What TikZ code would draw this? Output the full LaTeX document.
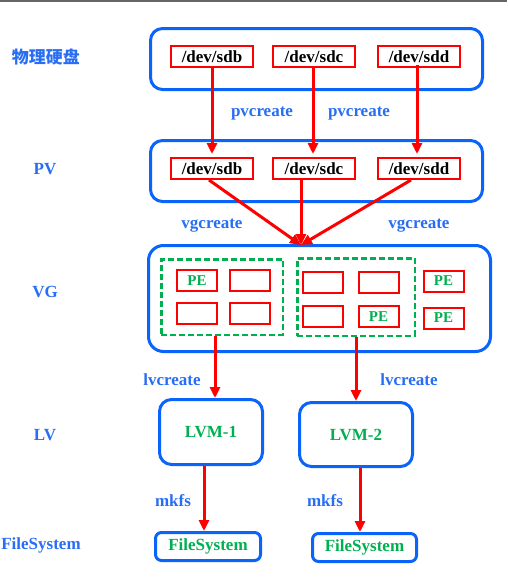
\documentclass[tikz,border=0pt]{standalone}
\usepackage{fontspec}
\setmainfont{Liberation Serif}
\newfontfamily\cjk{Noto Sans CJK SC}
\usetikzlibrary{arrows.meta}
\definecolor{boxblue}{RGB}{10,100,250}
\definecolor{lblblue}{RGB}{40,110,245}
\definecolor{pegreen}{RGB}{0,176,80}
\tikzset{
  grp/.style={draw=boxblue, line width=3pt, rounded corners=12pt, inner sep=0pt},
  dev/.style={draw=red, line width=2pt, minimum width=82pt, minimum height=21pt, inner sep=0pt,
    font=\bfseries\fontsize{17}{17}\selectfont},
  pebox/.style={draw=red, line width=2pt, minimum width=40pt, minimum height=21pt, inner sep=0pt,
    text=pegreen, font=\bfseries\fontsize{15}{15}\selectfont},
  ggrp/.style={draw=pegreen, line width=2.5pt, dash pattern=on 6pt off 3pt, inner sep=0pt},
  lbl/.style={text=lblblue, inner sep=0pt, font=\bfseries\fontsize{17}{17}\selectfont},
  gtxt/.style={text=pegreen, font=\bfseries\fontsize{17}{17}\selectfont},
  arr/.style={draw=red, line width=3pt, -{Triangle[length=11pt,width=10pt]}}
}
\begin{document}
\begin{tikzpicture}[x=1pt,y=-1pt]
\fill[white] (0,0) rectangle (507,579);
\useasboundingbox (0,0) rectangle (507,579);
\draw[gray!80!black, line width=1.5pt] (0,0.75) -- (507,0.75);

% row labels
\node[lbl, font=\cjk\bfseries\fontsize{17}{17}\selectfont] (l1) at (46,57) {物理硬盘};
\node[lbl] (l2) at (45,169) {PV};
\node[lbl] (l3) at (45,292) {VG};
\node[lbl] (l4) at (45,435) {LV};
\node[lbl] (l5) at (41,545) {FileSystem};

% physical disks
\node[grp, minimum width=332pt, minimum height=61pt] (disk) at (316.5,59) {};
\node[dev] (da) at (212,56.5) {/dev/sdb};
\node[dev] (db) at (314,56.5) {/dev/sdc};
\node[dev] (dc) at (419,56.5) {/dev/sdd};

% PV
\node[grp, minimum width=332pt, minimum height=61pt] (pv) at (316.5,171) {};
\node[dev] (pa) at (212,168.5) {/dev/sdb};
\node[dev] (pb) at (314,168.5) {/dev/sdc};
\node[dev] (pc) at (419,168.5) {/dev/sdd};

% VG
\node[grp, rounded corners=15pt, minimum width=342pt, minimum height=106pt] (vg) at (319.5,298.5) {};
\node[ggrp, minimum width=121.5pt, minimum height=75.5pt] (g1) at (222,297) {};
\node[ggrp, minimum width=117.5pt, minimum height=77.5pt] (g2) at (356,297) {};
\node[pebox] (e1) at (197,280.5) {PE};
\node[pebox] (e2) at (250,280.5) {};
\node[pebox] (e3) at (197,313.5) {};
\node[pebox] (e4) at (250,313.5) {};
\node[pebox] (e5) at (323,282.5) {};
\node[pebox] (e6) at (378.5,282.5) {};
\node[pebox] (e7) at (323,316.5) {};
\node[pebox] (e8) at (378.5,316.5) {PE};
\node[pebox] (e9) at (443.5,281) {PE};
\node[pebox] (e10) at (443.5,318) {PE};

% LV
\node[grp, minimum width=103pt, minimum height=65pt, gtxt] (lv1) at (211,432) {LVM-1};
\node[grp, minimum width=113pt, minimum height=64pt, gtxt] (lv2) at (356,434.5) {LVM-2};

% FS
\node[grp, rounded corners=6pt, minimum width=105pt, minimum height=28pt, gtxt] (fs1) at (208,546.5) {FileSystem};
\node[grp, rounded corners=6pt, minimum width=104pt, minimum height=28pt, gtxt] (fs2) at (364.5,547.5) {FileSystem};

% command labels
\node[lbl] (c1) at (262,114) {pvcreate};
\node[lbl] (c2) at (359,114) {pvcreate};
\node[lbl] (c3) at (212,226) {vgcreate};
\node[lbl] (c4) at (419,226) {vgcreate};
\node[lbl] (c5) at (172,380) {lvcreate};
\node[lbl] (c6) at (409,380) {lvcreate};
\node[lbl] (c7) at (173,501) {mkfs};
\node[lbl] (c8) at (325,501) {mkfs};

% arrows
\draw[arr, shorten >=3pt] (da.south) -- (pa.north);
\draw[arr, shorten >=3pt] ([xshift=-1pt]db.south) -- ([xshift=-1pt]pb.north);
\draw[arr, shorten >=3pt] ([xshift=-2pt,yshift=3pt]dc.south) -- ([xshift=-2pt]pc.north);
\coordinate (vgtip) at (301,245);
\draw[arr] ([xshift=-3pt]pa.south) -- (vgtip);
\draw[arr] (pb.south -| vgtip) -- (vgtip);
\draw[arr] ([xshift=-8pt]pc.south) -- (vgtip);
\draw[arr] ([xshift=-7pt]g1.south) -- ([xshift=4pt]lv1.north);
\draw[arr] (g2.south) -- (lv2.north);
\draw[arr] ([xshift=-7pt]lv1.south) -- ([xshift=-4pt]fs1.north);
\draw[arr] ([xshift=4pt]lv2.south) -- ([xshift=-4.5pt]fs2.north);
\end{tikzpicture}
\end{document}
